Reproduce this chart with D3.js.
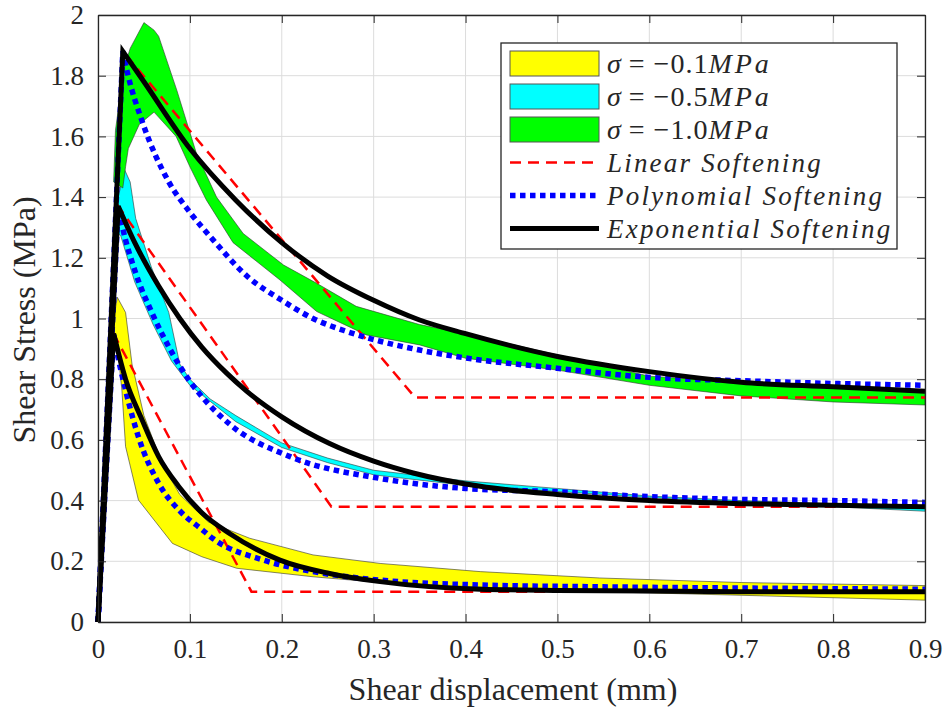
<!DOCTYPE html>
<html>
<head>
<meta charset="utf-8">
<script src="https://cdn.jsdelivr.net/npm/d3@7"></script>
<style>
  body { margin: 0; background: #fff; }
  svg { display: block; }
  text { font-family: "Liberation Serif", "Times New Roman", serif; fill: #262626; }
</style>
</head>
<body>
<svg width="947" height="709"></svg>
<script>
// tick values
const xTicks = [0, 0.1, 0.2, 0.3, 0.4, 0.5, 0.6, 0.7, 0.8, 0.9];
const yTicks = [0, 0.2, 0.4, 0.6, 0.8, 1, 1.2, 1.4, 1.6, 1.8, 2];

// peaks (shared by the three softening models)
const peakYellow = [0.017, 0.95];
const peakCyan = [0.022, 1.37];
const peakGreen = [0.027, 1.88];

// experimental envelopes (upper / lower edges)
const bandYellowUpper = [[0.016,0.98],[0.021,1.07],[0.030,1.02],[0.037,0.85],[0.05,0.68],[0.07,0.52],[0.089,0.42],[0.12,0.33],[0.165,0.276],[0.234,0.221],[0.307,0.193],[0.416,0.166],[0.546,0.145],[0.7,0.13],[0.9,0.12]];
const bandYellowLower = [[0.016,0.98],[0.022,0.88],[0.026,0.764],[0.030,0.578],[0.044,0.402],[0.081,0.259],[0.113,0.215],[0.151,0.177],[0.234,0.149],[0.307,0.13],[0.416,0.115],[0.546,0.10],[0.7,0.088],[0.9,0.072]];

const bandCyanUpper = [[0.018,1.30],[0.022,1.40],[0.029,1.49],[0.035,1.45],[0.041,1.33],[0.058,1.17],[0.077,1.02],[0.089,0.85],[0.1,0.80],[0.122,0.735],[0.15,0.68],[0.2,0.59],[0.25,0.54],[0.3,0.50],[0.4,0.465],[0.5,0.44],[0.6,0.415],[0.7,0.40],[0.8,0.39],[0.9,0.38]];
const bandCyanLower = [[0.018,1.30],[0.025,1.27],[0.04,1.12],[0.06,0.98],[0.08,0.86],[0.1,0.78],[0.15,0.66],[0.2,0.575],[0.25,0.525],[0.3,0.485],[0.4,0.45],[0.5,0.43],[0.6,0.41],[0.7,0.395],[0.8,0.38],[0.9,0.365]];

const bandGreenUpper = [[0.017,1.45],[0.019,1.62],[0.028,1.82],[0.035,1.89],[0.050,1.975],[0.061,1.95],[0.066,1.93],[0.086,1.75],[0.107,1.545],[0.129,1.40],[0.158,1.28],[0.202,1.176],[0.238,1.116],[0.281,1.04],[0.35,0.98],[0.40,0.95],[0.5,0.88],[0.6,0.81],[0.7,0.79],[0.8,0.775],[0.9,0.755]];
const bandGreenLower = [[0.017,1.45],[0.027,1.43],[0.030,1.50],[0.033,1.56],[0.045,1.64],[0.061,1.68],[0.085,1.60],[0.10,1.50],[0.118,1.39],[0.147,1.25],[0.198,1.127],[0.238,1.023],[0.292,0.946],[0.35,0.913],[0.40,0.869],[0.5,0.83],[0.6,0.78],[0.7,0.745],[0.8,0.725],[0.9,0.715]];

// linear softening (polylines after the peak)
const linYellow = [peakYellow, [0.167,0.10], [0.9,0.10]];
const linCyan = [peakCyan, [0.254,0.38], [0.9,0.38]];
const linGreen = [peakGreen, [0.345,0.74], [0.9,0.74]];

// polynomial softening
const polyYellow = [peakYellow,[0.02,0.90],[0.03,0.764],[0.044,0.61],[0.066,0.457],[0.091,0.36],[0.113,0.305],[0.125,0.275],[0.18,0.204],[0.234,0.166],[0.307,0.138],[0.416,0.122],[0.546,0.116],[0.7,0.112],[0.9,0.108]];
const polyCyan = [peakCyan,[0.026,1.31],[0.041,1.15],[0.059,1.017],[0.081,0.885],[0.099,0.797],[0.111,0.75],[0.144,0.65],[0.209,0.545],[0.307,0.473],[0.4,0.44],[0.5,0.429],[0.6,0.413],[0.7,0.404],[0.8,0.40],[0.9,0.394]];
const polyGreen = [peakGreen,[0.032,1.81],[0.048,1.65],[0.077,1.45],[0.1,1.35],[0.125,1.26],[0.162,1.14],[0.2,1.06],[0.234,1.0],[0.271,0.957],[0.307,0.925],[0.35,0.896],[0.4,0.87],[0.5,0.836],[0.6,0.806],[0.7,0.795],[0.8,0.786],[0.9,0.78]];

// exponential softening
const expYellow = [peakYellow,[0.03,0.80],[0.048,0.666],[0.066,0.545],[0.088,0.446],[0.113,0.36],[0.144,0.29],[0.198,0.204],[0.252,0.16],[0.307,0.133],[0.416,0.108],[0.5,0.104],[0.6,0.102],[0.7,0.10],[0.8,0.10],[0.9,0.10]];
const expCyan = [peakCyan,[0.04,1.25],[0.066,1.107],[0.089,1.0],[0.113,0.906],[0.14,0.82],[0.162,0.76],[0.2,0.676],[0.252,0.588],[0.3,0.53],[0.343,0.491],[0.416,0.447],[0.5,0.42],[0.6,0.40],[0.7,0.39],[0.8,0.385],[0.9,0.38]];
const expGreen = [peakGreen,[0.05,1.78],[0.1,1.56],[0.15,1.39],[0.2,1.25],[0.25,1.14],[0.3,1.06],[0.35,0.995],[0.4,0.95],[0.5,0.875],[0.6,0.825],[0.7,0.79],[0.8,0.775],[0.9,0.76]];

// legend text
const legendStress = ["\u22120.1", "\u22120.5", "\u22121.0"];
const legendModels = ["Linear Softening", "Polynomial Softening", "Exponential Softening"];

const svg = d3.select('svg');
const x = d3.scaleLinear().domain([0, 0.9]).range([98, 925]);
const y = d3.scaleLinear().domain([0, 2]).range([622, 15]);

// grid
svg.append('g').selectAll('line').data(xTicks).join('line')
  .attr('x1', d => x(d)).attr('x2', d => x(d))
  .attr('y1', y(0)).attr('y2', y(2))
  .attr('stroke', '#dcdcdc').attr('stroke-width', 1);
svg.append('g').selectAll('line').data(yTicks).join('line')
  .attr('y1', d => y(d)).attr('y2', d => y(d))
  .attr('x1', x(0)).attr('x2', x(0.9))
  .attr('stroke', '#dcdcdc').attr('stroke-width', 1);

const plot = svg.append('g');
const lineLin = d3.line().x(d => x(d[0])).y(d => y(d[1]));
const lineSmooth = d3.line().x(d => x(d[0])).y(d => y(d[1])).curve(d3.curveMonotoneX);

// bands
const bands = [
  [bandYellowUpper, bandYellowLower, '#ffff00'],
  [bandCyanUpper, bandCyanLower, '#00ffff'],
  [bandGreenUpper, bandGreenLower, '#00ff00']
];
bands.forEach(b => {
  plot.append('path')
    .attr('d', lineLin(b[0].concat(b[1].slice().reverse())) + 'Z')
    .attr('fill', b[2])
    .attr('stroke', '#333')
    .attr('stroke-width', 0.6);
});

// origin -> peak as straight line, then softening part
function modelPath(pts, smooth) {
  const tail = (smooth ? lineSmooth : lineLin)(pts);
  return `M${x(0)},${y(0)}L` + tail.slice(1);
}

const styles = {
  lin: { color: '#ff0000', width: 2.5, dash: '11,7' },
  poly: { color: '#0000ff', width: 5.5, dash: '5.5,4.5' },
  exp: { color: '#000000', width: 5, dash: null }
};

const models = [
  ['lin', [linYellow, linCyan, linGreen], false],
  ['poly', [polyYellow, polyCyan, polyGreen], true],
  ['exp', [expYellow, expCyan, expGreen], true]
];
models.forEach(m => {
  const s = styles[m[0]];
  m[1].forEach(pts => {
    plot.append('path')
      .attr('d', modelPath(pts, m[2]))
      .attr('fill', 'none')
      .attr('stroke', s.color)
      .attr('stroke-width', s.width)
      .attr('stroke-dasharray', s.dash)
      .attr('stroke-linejoin', 'miter');
  });
});

// axes (box with inward ticks)
const fmt = d => String(d);
const axisColor = '#262626';
function styleAxis(g) {
  g.selectAll('path.domain').attr('stroke', axisColor).attr('stroke-width', 1.3);
  g.selectAll('.tick line').attr('stroke', axisColor).attr('stroke-width', 1);
  g.selectAll('.tick text')
    .style('font-family', '"Liberation Serif", serif')
    .style('font-size', '27px')
    .attr('fill', axisColor);
}
svg.append('g').attr('transform', `translate(0,${y(0)})`)
  .call(d3.axisBottom(x).tickValues(xTicks).tickFormat(fmt).tickSize(-8).tickSizeOuter(0).tickPadding(17))
  .call(styleAxis);
svg.append('g').attr('transform', `translate(0,${y(2)})`)
  .call(d3.axisTop(x).tickValues(xTicks).tickFormat('').tickSize(-8).tickSizeOuter(0))
  .call(styleAxis);
svg.append('g').attr('transform', `translate(${x(0)},0)`)
  .call(d3.axisLeft(y).tickValues(yTicks).tickFormat(fmt).tickSize(-8).tickSizeOuter(0).tickPadding(14))
  .call(styleAxis);
svg.append('g').attr('transform', `translate(${x(0.9)},0)`)
  .call(d3.axisRight(y).tickValues(yTicks).tickFormat('').tickSize(-8).tickSizeOuter(0))
  .call(styleAxis);

// axis titles
svg.append('text')
  .attr('x', 513).attr('y', 700)
  .attr('text-anchor', 'middle')
  .style('font-size', '32px')
  .text('Shear displacement (mm)');
svg.append('text')
  .attr('transform', 'translate(35,320) rotate(-90)')
  .attr('text-anchor', 'middle')
  .style('font-size', '32px')
  .text('Shear Stress (MPa)');

// legend
const leg = svg.append('g');
leg.append('rect')
  .attr('x', 501).attr('y', 43).attr('width', 396).attr('height', 206)
  .attr('fill', '#fff').attr('stroke', axisColor).attr('stroke-width', 1.3);

const rowY = i => 63.5 + i * 33;
const bandColors = bands.map(b => b[2]);
legendStress.forEach((s, i) => {
  leg.append('rect')
    .attr('x', 510).attr('y', rowY(i) - 12.5).attr('width', 89).attr('height', 25)
    .attr('fill', bandColors[i]).attr('stroke', '#555').attr('stroke-width', 1);
  const t = leg.append('text')
    .attr('x', 607).attr('y', rowY(i) + 9)
    .style('font-size', '28px');
  t.append('tspan').style('font-style', 'italic').text('\u03c3');
  t.append('tspan').attr('letter-spacing', '1').text(' = ' + s);
  t.append('tspan').style('font-style', 'italic').attr('letter-spacing', '3').text('MPa');
});
legendModels.forEach((label, i) => {
  const s = styles[Object.keys(styles)[i]];
  const yy = rowY(i + 3);
  leg.append('line')
    .attr('x1', 510).attr('x2', 599).attr('y1', yy).attr('y2', yy)
    .attr('stroke', s.color).attr('stroke-width', s.width)
    .attr('stroke-dasharray', s.dash);
  leg.append('text')
    .attr('x', 607).attr('y', yy + 9)
    .style('font-size', '27px')
    .style('font-style', 'italic')
    .attr('letter-spacing', '2.2')
    .text(label);
});
</script>
</body>
</html>
